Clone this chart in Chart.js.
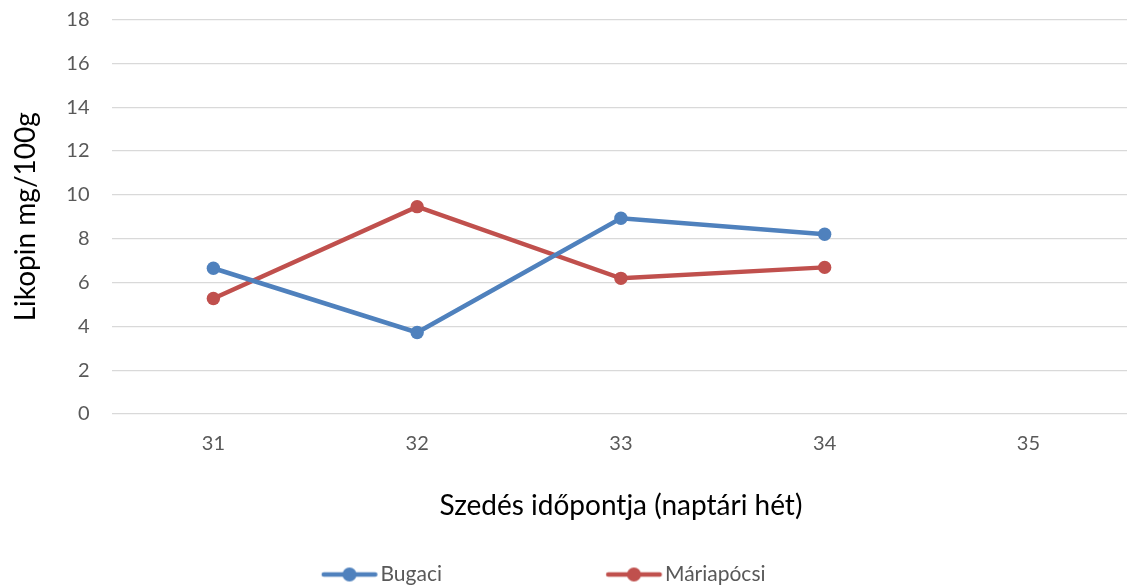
<!DOCTYPE html>
<html lang="hu">
<head>
  <meta charset="UTF-8" />
  <title>Likopin tartalom</title>
  <script src="https://cdn.jsdelivr.net/npm/chart.js"></script>
  <style>
    * {
      margin: 0;
      padding: 0;
      box-sizing: border-box;
    }

    body {
      width: 1127px;
      height: 588px;
      overflow: hidden;
      position: relative;
      background: #fff;
    }

    /* canvas is pushed left so the legend lands where Excel put it */
    .wrap {
      position: absolute;
      left: -204px;
      top: 0;
      width: 1341px;
      height: 595px;
    }
  </style>
</head>
<body>

  <div class="wrap">
    <canvas id="likopinChart"></canvas>
  </div>

  <script>
    const weeks = ['31', '32', '33', '34', '35'];
    const bugaci = [6.65, 3.72, 8.93, 8.2, null];
    const mariapocsi = [5.27, 9.46, 6.19, 6.69, null];
    const yTicks = { min: 0, max: 18, step: 2 };

    const BLUE = '#4F81BD';
    const RED = '#C0504D';
    const FONT = "Lato, 'Noto Sans', sans-serif";

    // line-with-dot legend symbol, drawn on the right part of a wide box
    function legendIcon(color) {
      const c = document.createElement('canvas');
      c.width = 220;
      c.height = 16;
      const g = c.getContext('2d');
      g.strokeStyle = color;
      g.lineWidth = 4.5;
      g.lineCap = 'round';
      g.beginPath();
      g.moveTo(165, 8);
      g.lineTo(216.5, 8);
      g.stroke();
      g.fillStyle = color;
      g.beginPath();
      g.arc(190.75, 8, 7, 0, Math.PI * 2);
      g.fill();
      return c;
    }

    const icons = [legendIcon(BLUE), legendIcon(RED)];

    const ctx = document.getElementById('likopinChart').getContext('2d');

    new Chart(ctx, {
      type: 'line',
      data: {
        labels: weeks,
        datasets: [
          {
            label: 'Bugaci',
            data: bugaci,
            borderColor: BLUE,
            backgroundColor: BLUE,
            borderWidth: 4.5,
            pointRadius: 6.7,
            pointBorderWidth: 0,
            pointHoverRadius: 6.7
          },
          {
            label: 'Máriapócsi',
            data: mariapocsi,
            borderColor: RED,
            backgroundColor: RED,
            borderWidth: 4.5,
            pointRadius: 6.7,
            pointBorderWidth: 0,
            pointHoverRadius: 6.7
          }
        ]
      },
      options: {
        responsive: true,
        maintainAspectRatio: false,
        animation: false,
        layout: {
          padding: { top: 19.5, right: 0, bottom: 0, left: 0 }
        },
        plugins: {
          tooltip: { enabled: false },
          legend: {
            position: 'bottom',
            labels: {
              usePointStyle: true,
              pointStyleWidth: 202.5,
              padding: 10,
              color: '#595959',
              font: { family: FONT, size: 21 },
              generateLabels: chart => {
                const items = Chart.defaults.plugins.legend.labels.generateLabels(chart);
                items.forEach((it, i) => { it.pointStyle = icons[i]; });
                return items;
              }
            }
          }
        },
        scales: {
          x: {
            offset: true,
            grid: { display: false, drawTicks: false },
            border: { display: false },
            ticks: {
              color: '#595959',
              padding: 18,
              font: { family: FONT, size: 20 }
            },
            title: {
              display: true,
              text: 'Szedés időpontja (naptári hét)',
              color: '#000',
              padding: { top: 0, bottom: 31 },
              font: { family: FONT, size: 28 }
            },
            afterFit: s => { s.height = 140; }
          },
          y: {
            min: yTicks.min,
            max: yTicks.max,
            grid: { color: '#D9D9D9', lineWidth: 1.3, drawTicks: false },
            border: { display: false },
            ticks: {
              stepSize: yTicks.step,
              color: '#595959',
              padding: 22,
              font: { family: FONT, size: 20 }
            },
            title: {
              display: true,
              text: 'Likopin mg/100g',
              color: '#000',
              padding: { top: 212.7, bottom: 0 },
              font: { family: FONT, size: 28 }
            },
            afterFit: s => {
              s.width = 315.5;
              // keep the tick padding from pushing the plot area down
              s.paddingTop = 12;
              s.paddingBottom = 12;
            }
          }
        }
      }
    });
  </script>
</body>
</html>
